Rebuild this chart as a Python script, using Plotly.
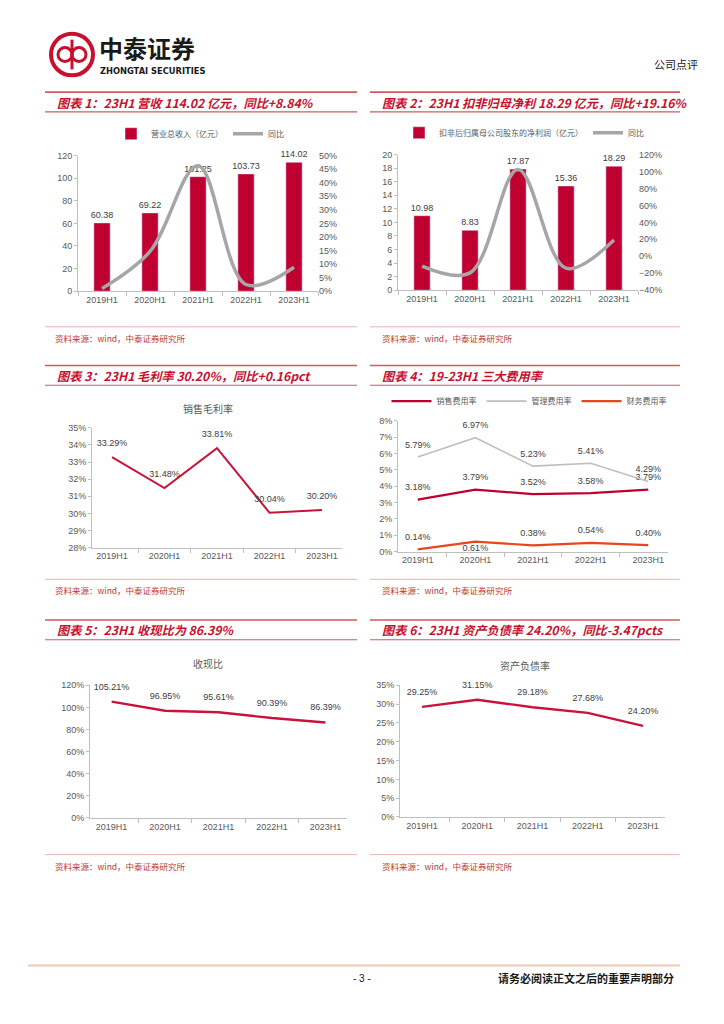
import plotly.graph_objects as go

W, H = 724, 1024


def px(x):
    return x / W


def py(y):
    return 1 - y / H


# ---------------- data ----------------
cats = ["2019H1", "2020H1", "2021H1", "2022H1", "2023H1"]
revenue = [60.38, 69.22, 101.25, 103.73, 114.02]
revenue_yoy = [1.0, 14.64, 46.27, 2.45, 8.84]
profit = [10.98, 8.83, 17.87, 15.36, 18.29]
profit_yoy = [-11.5, -19.58, 102.38, -14.05, 19.16]
gross_margin = [33.29, 31.48, 33.81, 30.04, 30.20]
sales_rate = [3.18, 3.79, 3.52, 3.58, 3.79]
admin_rate = [5.79, 6.97, 5.23, 5.41, 4.29]
fin_rate = [0.14, 0.61, 0.38, 0.54, 0.40]
cash_ratio = [105.21, 96.95, 95.61, 90.39, 86.39]
debt_ratio = [29.25, 31.15, 29.18, 27.68, 24.20]

titles = [
    "图表 1：23H1 营收 114.02 亿元，同比+8.84%",
    "图表 2：23H1 扣非归母净利 18.29 亿元，同比+19.16%",
    "图表 3：23H1 毛利率 30.20%，同比+0.16pct",
    "图表 4：19-23H1 三大费用率",
    "图表 5：23H1 收现比为 86.39%",
    "图表 6：23H1 资产负债率 24.20%，同比-3.47pcts",
]
source_text = "资料来源：wind，中泰证券研究所"

RED = "#C00030"
LINE_RED = "#C8143C"
GRAY_LINE = "#A6A6A6"
TICK_FONT = dict(family="Liberation Sans, Arial", size=9, color="#595959")
LABEL_FONT = dict(family="Liberation Sans, Arial", size=9, color="#404040")
CJK = "Noto Sans CJK SC"
AX_COLOR = "#BFBFBF"
HIDDEN = "rgba(0,0,0,0)"

fig = go.Figure()

# chart 1
fig.add_trace(go.Bar(x=cats, y=revenue, name="营业总收入（亿元）", marker_color=RED,
                     width=0.34, text=revenue, texttemplate="%{y:.2f}", textposition="outside",
                     constraintext="none",
                     textfont=LABEL_FONT, cliponaxis=False, xaxis="x", yaxis="y", legend="legend"))
fig.add_trace(go.Scatter(x=cats, y=revenue_yoy, name="同比", mode="lines",
                         line=dict(color=GRAY_LINE, width=3.5, shape="spline", smoothing=1.0),
                         xaxis="x", yaxis="y2", legend="legend", cliponaxis=False))
# chart 2
fig.add_trace(go.Bar(x=cats, y=profit, name="扣非后归属母公司股东的净利润（亿元）", marker_color=RED,
                     width=0.34, text=profit, texttemplate="%{y:.2f}", textposition="outside",
                     constraintext="none",
                     textfont=LABEL_FONT, cliponaxis=False, xaxis="x2", yaxis="y3", legend="legend2"))
fig.add_trace(go.Scatter(x=cats, y=profit_yoy, name="同比", mode="lines",
                         line=dict(color=GRAY_LINE, width=3.5, shape="spline", smoothing=1.0),
                         xaxis="x2", yaxis="y4", legend="legend2", cliponaxis=False))
# chart 3
fig.add_trace(go.Scatter(x=cats, y=gross_margin, mode="lines+markers+text", showlegend=False,
                         line=dict(color=LINE_RED, width=2),
                         marker=dict(size=12, color=HIDDEN, line=dict(width=0)),
                         text=[f"{v:.2f}%" for v in gross_margin], textposition="top center",
                         textfont=LABEL_FONT, cliponaxis=False, xaxis="x3", yaxis="y5"))
# chart 4
fig.add_trace(go.Scatter(x=cats, y=sales_rate, name="销售费用率", mode="lines+markers+text",
                         line=dict(color=RED, width=2.2),
                         marker=dict(size=10, color=HIDDEN, line=dict(width=0)),
                         text=[f"{v:.2f}%" for v in sales_rate], textposition="top center",
                         textfont=LABEL_FONT, cliponaxis=False, xaxis="x4", yaxis="y6", legend="legend3"))
fig.add_trace(go.Scatter(x=cats, y=admin_rate, name="管理费用率", mode="lines+markers+text",
                         line=dict(color="#BFBFBF", width=1.6),
                         marker=dict(size=10, color=HIDDEN, line=dict(width=0)),
                         text=[f"{v:.2f}%" for v in admin_rate], textposition="top center",
                         textfont=LABEL_FONT, cliponaxis=False, xaxis="x4", yaxis="y6", legend="legend3"))
fig.add_trace(go.Scatter(x=cats, y=fin_rate, name="财务费用率", mode="lines+markers+text",
                         line=dict(color="#E8461E", width=2.2),
                         marker=dict(size=[10, 2, 10, 10, 10], color=HIDDEN,
                                     line=dict(width=0, color=HIDDEN)),
                         text=[f"{v:.2f}%" for v in fin_rate],
                         textposition=["top center", "bottom center", "top center", "top center", "top center"],
                         textfont=LABEL_FONT, cliponaxis=False, xaxis="x4", yaxis="y6", legend="legend3"))
# chart 5
fig.add_trace(go.Scatter(x=cats, y=cash_ratio, mode="lines+markers+text", showlegend=False,
                         line=dict(color=LINE_RED, width=2.4),
                         marker=dict(size=14, color=HIDDEN, line=dict(width=0)),
                         text=[f"{v:.2f}%" for v in cash_ratio], textposition="top center",
                         textfont=LABEL_FONT, cliponaxis=False, xaxis="x5", yaxis="y7"))
# chart 6
fig.add_trace(go.Scatter(x=cats, y=debt_ratio, mode="lines+markers+text", showlegend=False,
                         line=dict(color=LINE_RED, width=2.4),
                         marker=dict(size=14, color=HIDDEN, line=dict(width=0)),
                         text=[f"{v:.2f}%" for v in debt_ratio], textposition="top center",
                         textfont=LABEL_FONT, cliponaxis=False, xaxis="x6", yaxis="y8"))


def xax(x0, x1, anchor):
    return dict(domain=[px(x0), px(x1)], anchor=anchor, type="category",
                showline=True, linecolor=AX_COLOR, linewidth=1, ticks="outside",
                tickson="boundaries", ticklen=4, tickcolor=AX_COLOR, tickfont=TICK_FONT,
                showgrid=False, zeroline=False, fixedrange=True)


def yax(y0, y1, anchor, rng, dtick, suffix=""):
    return dict(domain=[py(y0), py(y1)], anchor=anchor, range=rng, dtick=dtick,
                ticksuffix=suffix, showline=True, linecolor=AX_COLOR, linewidth=1,
                ticks="outside", ticklen=3, tickcolor=AX_COLOR, tickfont=TICK_FONT,
                showgrid=False, zeroline=False, fixedrange=True)


def yright(overlay, anchor, rng, dtick, suffix="%"):
    return dict(overlaying=overlay, anchor=anchor, side="right", range=rng, dtick=dtick,
                ticksuffix=suffix, showline=False, ticks="", tickfont=TICK_FONT,
                showgrid=False, zeroline=False, fixedrange=True)


layout = dict(
    width=W, height=H, autosize=False,
    margin=dict(l=0, r=0, t=0, b=0),
    paper_bgcolor="white", plot_bgcolor="white",
    bargap=0.5,
    xaxis=xax(78, 318, "y"),
    yaxis=yax(289, 152, "x", [0, 120], 20),
    yaxis2=yright("y", "x", [0, 50], 5),
    xaxis2=xax(398, 638, "y3"),
    yaxis3=yax(288, 151, "x2", [0, 20], 2),
    yaxis4=yright("y3", "x2", [-40, 120], 20),
    xaxis3=xax(92, 342, "y5"),
    yaxis5=yax(548, 427, "x3", [28, 35], 1, "%"),
    xaxis4=xax(398, 668, "y6"),
    yaxis6=yax(552, 420, "x4", [0, 8], 1, "%"),
    xaxis5=xax(90, 347, "y7"),
    yaxis7=yax(821, 687, "x5", [0, 120], 20, "%"),
    xaxis6=xax(400, 665, "y8"),
    yaxis8=yax(820, 687, "x6", [0, 35], 5, "%"),
    legend=dict(x=px(200), y=py(130), xanchor="center", yanchor="middle", orientation="h",
                font=dict(family=CJK, size=8, color="#595959"), bgcolor="rgba(0,0,0,0)",
                itemwidth=30, tracegroupgap=0),
    legend2=dict(x=px(524), y=py(129), xanchor="center", yanchor="middle", orientation="h",
                 font=dict(family=CJK, size=8, color="#595959"), bgcolor="rgba(0,0,0,0)",
                 itemwidth=30),
    legend3=dict(x=px(529), y=py(400), xanchor="center", yanchor="middle", orientation="h",
                 font=dict(family=CJK, size=8, color="#595959"), bgcolor="rgba(0,0,0,0)",
                 itemwidth=40),
)
fig.update_layout(**layout)

shapes = []
annotations = []

# ---- header / logo ----
shapes.append(dict(type="circle", xref="paper", yref="paper",
                   x0=px(51), x1=px(93), y0=py(71), y1=py(29),
                   line=dict(color="#C8102E", width=4), fillcolor="white"))
shapes.append(dict(type="circle", xref="paper", yref="paper",
                   x0=px(58), x1=px(72), y0=py(57), y1=py(43),
                   line=dict(color="#C8102E", width=3)))
shapes.append(dict(type="circle", xref="paper", yref="paper",
                   x0=px(72), x1=px(86), y0=py(57), y1=py(43),
                   line=dict(color="#C8102E", width=3)))
shapes.append(dict(type="line", xref="paper", yref="paper",
                   x0=px(72), x1=px(72), y0=py(35), y1=py(65),
                   line=dict(color="#C8102E", width=3)))
annotations.append(dict(text="<b>中泰证券</b>", x=px(97), y=py(43), xref="paper", yref="paper",
                        xanchor="left", yanchor="middle", showarrow=False,
                        font=dict(family=CJK, size=24, color="#1a1a1a")))
annotations.append(dict(text="<b>ZHONGTAI SECURITIES</b>", x=px(98), y=py(66.5), xref="paper", yref="paper",
                        xanchor="left", yanchor="middle", showarrow=False,
                        font=dict(family="DejaVu Sans", size=8.3, color="#1a1a1a")))
annotations.append(dict(text="公司点评", x=px(700), y=py(60), xref="paper", yref="paper",
                        xanchor="right", yanchor="middle", showarrow=False,
                        font=dict(family=CJK, size=11, color="#1a1a1a")))

# ---- section headers ----
HDR_LINE = "#D25A5A"
panels = [
    (45, 357, 88, 108, 55),
    (370, 680, 88, 108, 380),
    (45, 357, 364, 384, 55),
    (370, 680, 364, 384, 380),
    (45, 357, 621, 641, 55),
    (370, 680, 621, 641, 380),
]
for (x0, x1, yt, yb, tx), t in zip(panels, titles):
    for yy, wd in ((yt, 1.6), (yb, 1.2)):
        shapes.append(dict(type="line", xref="paper", yref="paper",
                           x0=px(x0), x1=px(x1), y0=py(yy), y1=py(yy),
                           line=dict(color=HDR_LINE, width=wd)))
    annotations.append(dict(text=t, x=px(tx), y=py((yt + yb) / 2 + 0.5), xref="paper", yref="paper",
                            xanchor="left", yanchor="middle", showarrow=False,
                            font=dict(family=CJK, size=12.2, color="#C8102E", weight="bold",
                                      style="italic")))

# ---- chart titles (single-series charts) ----
for txt, cx, cy in (("销售毛利率", 208, 407), ("收现比", 208, 665), ("资产负债率", 525, 667)):
    annotations.append(dict(text=txt, x=px(cx), y=py(cy), xref="paper", yref="paper",
                            xanchor="center", yanchor="middle", showarrow=False,
                            font=dict(family=CJK, size=10, color="#595959")))

# ---- sources ----
for x0, x1, ly, tx, ty in ((45, 357, 325, 53, 336), (370, 680, 325, 380, 336),
                           (45, 357, 580, 53, 591), (370, 680, 580, 380, 591),
                           (45, 357, 858, 53, 869), (370, 680, 858, 380, 869)):
    shapes.append(dict(type="line", xref="paper", yref="paper",
                       x0=px(x0), x1=px(x1), y0=py(ly), y1=py(ly),
                       line=dict(color="#E8B4B4", width=1)))
    annotations.append(dict(text=source_text, x=px(tx), y=py(ty), xref="paper", yref="paper",
                            xanchor="left", yanchor="middle", showarrow=False,
                            font=dict(family=CJK, size=8.5, color="#C0392B")))

# ---- footer ----
shapes.append(dict(type="line", xref="paper", yref="paper",
                   x0=px(28), x1=px(680), y0=py(970), y1=py(970),
                   line=dict(color="#EBC9B5", width=2)))
annotations.append(dict(text="- 3 -", x=px(362), y=py(983), xref="paper", yref="paper",
                        xanchor="center", yanchor="middle", showarrow=False,
                        font=dict(family="Liberation Sans, Arial", size=10, color="#1a1a1a")))
annotations.append(dict(text="<b>请务必阅读正文之后的重要声明部分</b>", x=px(676), y=py(983),
                        xref="paper", yref="paper", xanchor="right", yanchor="middle", showarrow=False,
                        font=dict(family=CJK, size=11, color="#1a1a1a")))

fig.update_layout(shapes=shapes, annotations=annotations)

fig.write_html("out.html", config={"displayModeBar": False},
               post_script="document.body.style.margin='0';")
